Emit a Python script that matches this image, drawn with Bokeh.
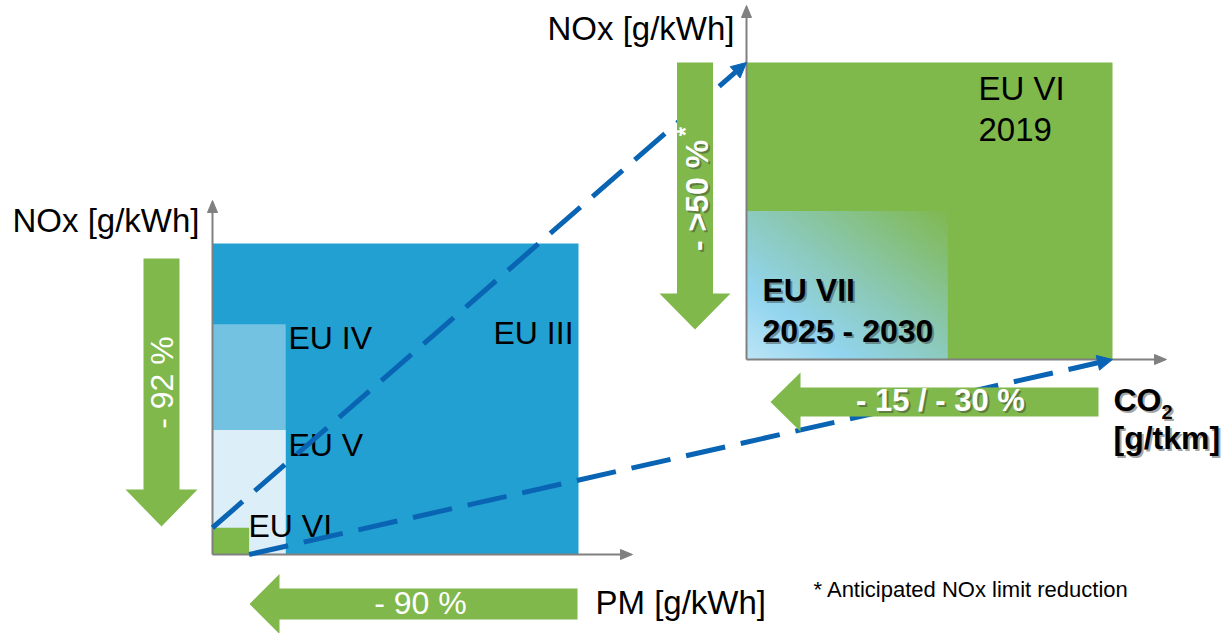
import numpy as np
from bokeh.plotting import figure
from bokeh.models import Range1d
from bokeh.core.properties import value
from bokeh.embed import file_html
from bokeh.resources import INLINE

# --- emission limits ---------------------------------------------------------
# left panel: NOx vs PM limits of the Euro stages (g/kWh)
stages = ["EU III", "EU IV", "EU V", "EU VI"]
stage_nox = [5.0, 3.7, 2.0, 0.43]
stage_pm = [0.10, 0.02, 0.02, 0.01]

# right panel: Euro VI vs the coming Euro VII (NOx in g/kWh, CO2 as index EU VI = 100)
future_stages = ["EU VI", "EU VII"]
future_years = ["2019", "2025 - 2030"]
future_nox = [0.4, 0.2]
future_co2 = [100, 55]

# reductions written on the arrows
nox_cut_label = "- 92 %"
pm_cut_label = "- 90 %"
nox_next_label = "- >50 %"
co2_next_label = "- 15 / - 30 %"
footnote = "* Anticipated NOx limit reduction"

# --- styling -----------------------------------------------------------------
W, H = 1224, 633
FONT = value("Liberation Sans")
STAGE_COLORS = ["#22A0D2", "#74C2E2", "#DCEEF7", "#7FB84B"]
GREEN = "#7FB84B"
ARROW_GREEN = "#80B84C"
DASH_BLUE = "#0A64B4"
AXIS_GREY = "#808080"


def sy(v):
    """layout positions are measured from the top edge of the canvas"""
    return H - v


# panel frames on the canvas
L_X0, L_Y0 = 212, sy(554)
L_SX = 366 / 0.10      # px per g/kWh PM
L_SY = 311 / 5.0       # px per g/kWh NOx
R_X0, R_Y0 = 746, sy(359)
R_SX = 366 / 100       # px per CO2 index point
R_SY = 297 / 0.4       # px per g/kWh NOx


def left_xy(pm, nox):
    return L_X0 + pm * L_SX, L_Y0 + nox * L_SY


def right_xy(co2, nox):
    return R_X0 + co2 * R_SX, R_Y0 + nox * R_SY


def head(x0, y0, x1, y1, length, width):
    """triangle arrow head at (x1, y1) and the point where the shaft ends"""
    d = np.array([x1 - x0, y1 - y0], float)
    d /= np.hypot(*d)
    n = np.array([-d[1], d[0]])
    tip = np.array([x1, y1], float)
    base = tip - d * length
    a = base + n * width / 2
    b = base - n * width / 2
    return [a[0], tip[0], b[0]], [a[1], tip[1], b[1]], base


def block_arrow_down(cx, top, head_base, tip, shaft_w, head_w):
    xs = [cx - shaft_w / 2, cx + shaft_w / 2, cx + shaft_w / 2, cx + head_w / 2,
          cx, cx - head_w / 2, cx - shaft_w / 2]
    ys = [top, top, head_base, head_base, tip, head_base, head_base]
    return xs, ys


def block_arrow_left(cy, right, head_base, tip, shaft_h, head_h):
    xs = [right, right, head_base, head_base, tip, head_base, head_base]
    ys = [cy + shaft_h / 2, cy - shaft_h / 2, cy - shaft_h / 2, cy - head_h / 2,
          cy, cy + head_h / 2, cy + shaft_h / 2]
    return xs, ys


p = figure(width=W, height=H, x_range=Range1d(0, W), y_range=Range1d(0, H),
           x_axis_type=None, y_axis_type=None, toolbar_location=None,
           output_backend="svg", min_border=0, outline_line_color=None,
           background_fill_color="white", border_fill_color="white")
p.grid.visible = False

# --- left panel: stage boxes --------------------------------------------------
rights, tops = zip(*[left_xy(pm, nox) for pm, nox in zip(stage_pm, stage_nox)])
p.quad(left=[L_X0] * len(stages), bottom=[L_Y0] * len(stages),
       right=list(rights), top=list(tops), fill_color=STAGE_COLORS, line_color=None)

# --- right panel: EU VI box and EU VII gradient box --------------------------
r6x, r6y = right_xy(future_co2[0], future_nox[0])
p.quad(left=[R_X0], bottom=[R_Y0], right=[r6x], top=[r6y], fill_color=GREEN, line_color=None)

r7x, r7y = right_xy(future_co2[1], future_nox[1])


def hex_rgb(h):
    return [int(h[i:i + 2], 16) for i in (1, 3, 5)]


stop_t = [0.0, 0.25, 0.55, 1.0]
stop_c = [hex_rgb(c) for c in ["#BDE5F6", "#92D5EF", "#8BC9B6", "#80B950"]]
nx, ny = 200, 150
u = np.linspace(0, 1, nx)[None, :]
v = np.linspace(0, 1, ny)[:, None]
t = (u + v) / 2
img = np.empty((ny, nx), dtype=np.uint32)
view = img.view(dtype=np.uint8).reshape((ny, nx, 4))
for k in range(3):
    view[..., k] = np.interp(t, stop_t, [c[k] for c in stop_c]).astype(np.uint8)
view[..., 3] = 255
p.image_rgba(image=[img], x=R_X0, y=R_Y0, dw=r7x - R_X0, dh=r7y - R_Y0)

# --- axes ----------------------------------------------------------------------
axes = [(L_X0, L_Y0, L_X0, sy(200)), (L_X0, L_Y0, 632, L_Y0),
        (R_X0, R_Y0, R_X0, sy(5)), (R_X0, R_Y0, 1166, R_Y0)]
for x0, y0, x1, y1 in axes:
    hx, hy, base = head(x0, y0, x1, y1, 12, 10)
    p.line([x0, base[0]], [y0, base[1]], line_color=AXIS_GREY, line_width=2)
    p.patch(hx, hy, fill_color=AXIS_GREY, line_color=AXIS_GREY, line_width=1)


# --- stage labels ----------------------------------------------------------------
def label(x, y, text, size=32, bold=False, color="black", align="left",
          baseline="alphabetic", angle=0.0, shadow=False):
    style = "bold" if bold else "normal"
    if baseline == "alphabetic":
        # Bokeh's text box sits a little low on the requested baseline
        y += 0.38 * size
    fs = f"{size}px"
    if shadow:
        p.text(x=[x + 2], y=[y - 2], text=[text], text_font=FONT, text_font_size=fs,
               text_font_style=style, text_color="#333333", text_alpha=0.45,
               text_align=align, text_baseline=baseline, angle=angle)
    p.text(x=[x], y=[y], text=[text], text_font=FONT, text_font_size=fs,
           text_font_style=style, text_color=color, text_align=align,
           text_baseline=baseline, angle=angle)


label(493, sy(345), stages[0])
label(288, sy(350), stages[1])
label(288, sy(457), stages[2])
label(248, sy(538), stages[3])

label(978, sy(101), future_stages[0], size=33)
label(978, sy(142), future_years[0], size=33)
label(762, sy(302), future_stages[1], bold=True, shadow=True)
label(762, sy(343), future_years[1], bold=True, shadow=True)

# --- dashed links between the EU VI corners -----------------------------------
links = [(left_xy(0, stage_nox[3]), right_xy(0, future_nox[0])),
         (left_xy(stage_pm[3], 0), right_xy(future_co2[0], 0))]
for (x0, y0), (x1, y1) in links:
    hx, hy, base = head(x0, y0, x1, y1, 15, 15)
    p.line([x0, base[0]], [y0, base[1]], line_color=DASH_BLUE, line_width=5,
           line_dash="40 16")
    p.patch(hx, hy, fill_color=DASH_BLUE, line_color=DASH_BLUE)

# --- reduction arrows ---------------------------------------------------------------
arrows = [block_arrow_down(161, sy(258), sy(489), sy(526), 36, 72),
          block_arrow_down(694.5, sy(62), sy(293), sy(329), 36, 71),
          block_arrow_left(sy(603.5), 577, 279, 249, 31, 60),
          block_arrow_left(sy(401.5), 1098, 800, 770, 29, 59)]
p.patches(xs=[a[0] for a in arrows], ys=[a[1] for a in arrows],
          fill_color=ARROW_GREEN, line_color=None)

label(161, sy(382), nox_cut_label, color="white", align="center",
      baseline="middle", angle=np.pi / 2)
label(696, sy(195), nox_next_label, bold=True, color="white", align="center",
      baseline="middle", angle=np.pi / 2, shadow=True)
label(685, sy(131), "*", size=24, bold=True, color="white", align="center",
      baseline="middle", angle=np.pi / 2)
label(420, sy(615), pm_cut_label, color="white", align="center")
label(940, sy(412), co2_next_label, size=31, bold=True, color="white",
      align="center", shadow=True)

# --- axis titles and note -----------------------------------------------------
label(12, sy(233), "NOx [g/kWh]", size=33)
label(547, sy(41), "NOx [g/kWh]", size=33)
label(595, sy(615), "PM [g/kWh]", size=33)
label(1113, sy(412), "CO", bold=True, shadow=True)
label(1161, sy(419), "2", size=20, bold=True, shadow=True)
label(1113, sy(450), "[g/tkm]", bold=True, shadow=True)
label(813, sy(597), footnote, size=22)

open("out.html", "w").write(file_html(p, INLINE))
